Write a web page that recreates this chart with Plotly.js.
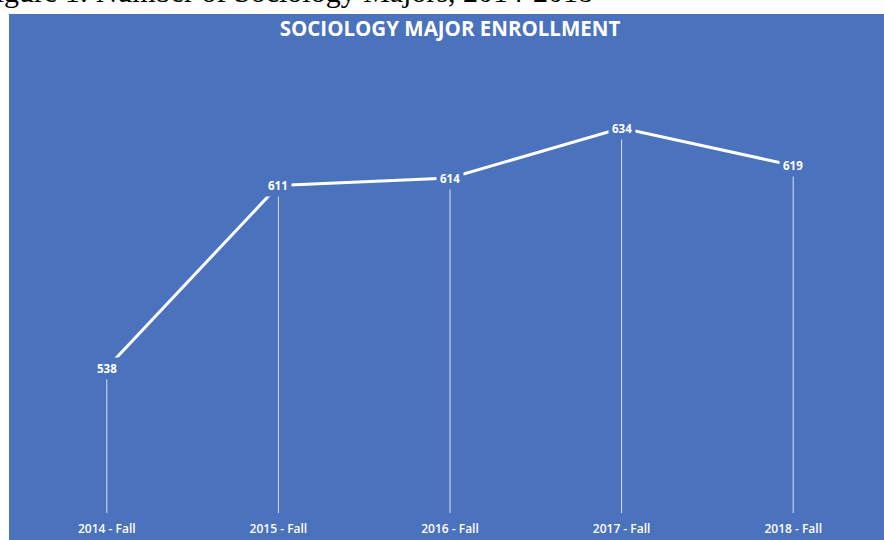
<!DOCTYPE html>
<html>
<head>
<meta charset="utf-8">
<script src="https://cdn.plot.ly/plotly-3.0.1.min.js"></script>
<style>html,body{margin:0;padding:0;background:#fff;}#chart{width:884px;height:540px;}</style>
</head>
<body>
<div id="chart"></div>
<script>
const categories = ["2014 - Fall", "2015 - Fall", "2016 - Fall", "2017 - Fall", "2018 - Fall"];
const enrollment = [538, 611, 614, 634, 619];
const yMin = 480, yMax = 650;
const BLUE = "#4a72bd";
const FONT = "Open Sans, sans-serif";

const lineTrace = {
  x: categories,
  y: enrollment,
  type: "scatter",
  mode: "lines",
  line: {color: "#ffffff", width: 3},
  error_y: {
    type: "data", symmetric: false,
    array: enrollment.map(() => 0),
    arrayminus: enrollment.map(v => v - yMin),
    color: "rgba(255,255,255,0.8)", thickness: 1, width: 0
  },
  hoverinfo: "skip",
  showlegend: false
};

const labels = categories.map((c, i) => ({
  x: c, y: enrollment[i], xref: "x", yref: "y",
  text: String(enrollment[i]), showarrow: false,
  font: {family: FONT, size: 11.5, color: "#ffffff", weight: 700},
  bgcolor: BLUE, borderpad: 3
}));

labels.push({
  xref: "paper", yref: "paper", x: (595 - 21) / 858, y: (513 - 10) / 425,
  xanchor: "right", yanchor: "bottom", showarrow: false,
  text: "Figure 1: Number of Sociology Majors, 2014-2018",
  font: {family: "Liberation Serif, Times New Roman, serif", size: 30, color: "#000000"}
});

const layout = {
  width: 884, height: 540,
  margin: {l: 21, r: 5, t: 88, b: 27, pad: 0},
  paper_bgcolor: "#ffffff",
  plot_bgcolor: "rgba(0,0,0,0)",
  title: {
    text: "SOCIOLOGY MAJOR ENROLLMENT",
    font: {family: FONT, size: 20.5, color: "#ffffff", weight: 700},
    x: 0.5, xref: "paper", xanchor: "center",
    y: 1 - 29 / 540, yref: "container", yanchor: "middle"
  },
  xaxis: {
    type: "category", range: [-0.5, 4.5],
    showgrid: false, zeroline: false, showline: false, ticks: "",
    ticklabelstandoff: 7,
    tickfont: {family: FONT, size: 12, color: "#ffffff", weight: 600},
    fixedrange: true
  },
  yaxis: {
    range: [yMin, yMax], visible: false, showgrid: false, zeroline: false, fixedrange: true
  },
  shapes: [{
    type: "rect", xref: "paper", yref: "paper", layer: "below",
    x0: (9 - 21) / 858, x1: (884 - 21) / 858,
    y0: (513 - 540) / 425, y1: (513 - 14) / 425,
    fillcolor: BLUE, line: {width: 0}
  }],
  annotations: labels,
  showlegend: false
};

Plotly.newPlot("chart", [lineTrace], layout, {displayModeBar: false, staticPlot: true});
</script>
</body>
</html>
